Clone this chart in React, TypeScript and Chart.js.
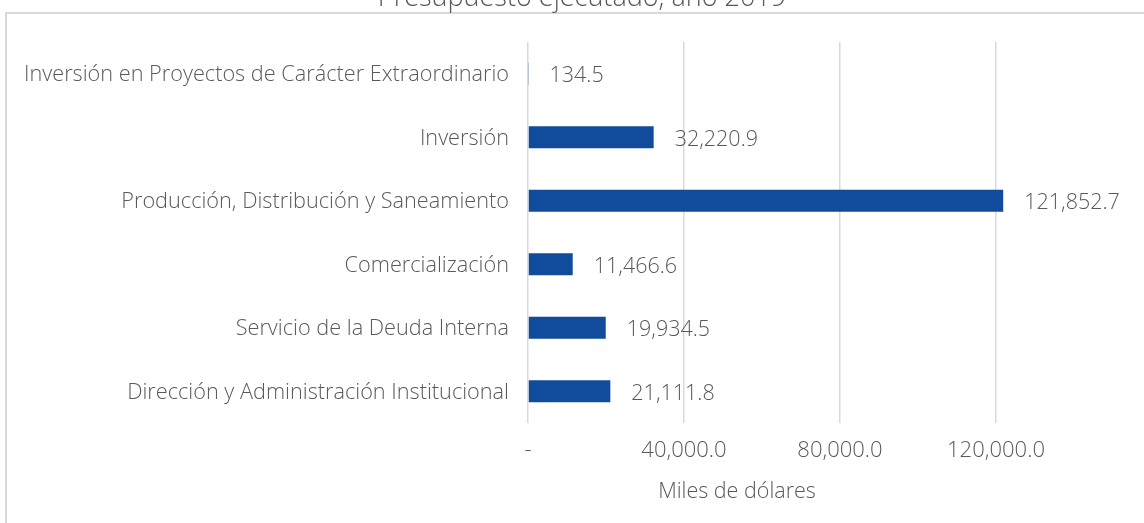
import React, { useEffect, useRef } from "react";
import { Chart, registerables } from "chart.js";

Chart.register(...registerables);

const categories = [
  "Inversión en Proyectos de Carácter Extraordinario",
  "Inversión",
  "Producción, Distribución y Saneamiento",
  "Comercialización",
  "Servicio de la Deuda Interna",
  "Dirección y Administración Institucional",
];
const values = [134.5, 32220.9, 121852.7, 11466.6, 19934.5, 21111.8];
const chartTitle = "Presupuesto ejecutado, año 2019";
const axisTitle = "Miles de dólares";

const FONT = "'Open Sans', Lato, sans-serif";
const TEXT = "#595959";
const fmt = (v: number) =>
  v.toLocaleString("en-US", { minimumFractionDigits: 1, maximumFractionDigits: 1 });

const extras = {
  id: "extras",
  beforeDraw(chart: any) {
    const ctx = chart.ctx;
    ctx.save();
    ctx.fillStyle = "#ffffff";
    ctx.fillRect(0, 0, chart.width, chart.height);
    ctx.strokeStyle = "#d9d9d9";
    ctx.lineWidth = 2;
    ctx.strokeRect(6, 13, 3000, 3000);
    ctx.restore();
  },
  afterDraw(chart: any) {
    const ctx = chart.ctx;
    ctx.save();
    ctx.fillStyle = TEXT;
    ctx.font = `300 27px ${FONT}`;
    ctx.textAlign = "center";
    ctx.textBaseline = "alphabetic";
    ctx.fillText(chartTitle, 582, 6);
    ctx.font = `300 21.5px ${FONT}`;
    ctx.textBaseline = "middle";
    ctx.fillText(axisTitle, 737, 492);
    ctx.textAlign = "left";
    const meta = chart.getDatasetMeta(0);
    meta.data.forEach((bar: any, i: number) => {
      ctx.fillText(fmt(values[i]), bar.x + 21, bar.y + 2.5);
    });
    ctx.restore();
  },
};

export default function App() {
  const ref = useRef<HTMLCanvasElement>(null);
  useEffect(() => {
    const chart = new Chart(ref.current!, {
      type: "bar",
      data: {
        labels: categories,
        datasets: [
          {
            data: values,
            backgroundColor: "#104C9B",
            barPercentage: 0.35,
            categoryPercentage: 1,
          },
        ],
      },
      options: {
        indexAxis: "y",
        animation: false,
        responsive: false,
        layout: { padding: { left: 0, right: 18, top: 42, bottom: 20 } },
        plugins: { legend: { display: false }, tooltip: { enabled: false }, title: { display: false } },
        scales: {
          x: {
            min: 0,
            max: 160000,
            border: { display: false },
            grid: { color: "#d9d9d9", lineWidth: 1.5, drawTicks: false },
            ticks: {
              stepSize: 40000,
              padding: 15,
              color: TEXT,
              font: { family: FONT, size: 22, weight: "300" as any },
              callback: (v: any) =>
                Number(v) === 0 ? "-" : Number(v) >= 160000 ? "" : fmt(Number(v)),
            },
            afterFit: (s: any) => {
              s.height = 80;
            },
          },
          y: {
            border: { display: false },
            grid: { display: false, drawTicks: false },
            ticks: {
              padding: 19,
              labelOffset: 1.5,
              color: TEXT,
              font: { family: FONT, size: 21.7, weight: "300" as any },
            },
            afterFit: (s: any) => {
              s.width = 528;
            },
          },
        },
      },
      plugins: [extras],
    });
    return () => chart.destroy();
  }, []);
  return (
    <div style={{ position: "fixed", left: 0, top: 0, width: 1144, height: 523, overflow: "hidden", background: "#fff" }}>
      <canvas ref={ref} width={1170} height={523} style={{ display: "block" }} />
    </div>
  );
}
